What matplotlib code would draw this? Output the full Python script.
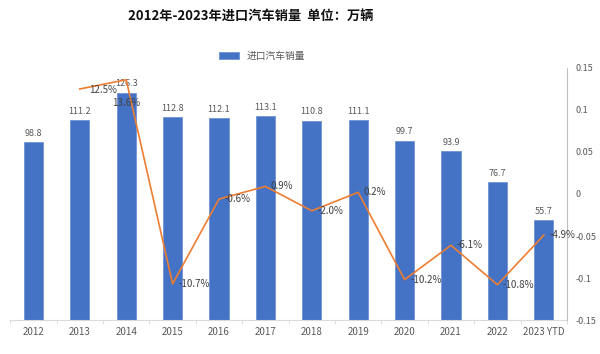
import matplotlib.pyplot as plt
from matplotlib.ticker import FixedLocator

plt.rcParams["font.family"] = ["Noto Sans CJK SC", "DejaVu Sans"]

years = ["2012", "2013", "2014", "2015", "2016", "2017", "2018", "2019",
         "2020", "2021", "2022", "2023 YTD"]
sales = [98.8, 111.2, 126.3, 112.8, 112.1, 113.1, 110.8, 111.1, 99.7, 93.9, 76.7, 55.7]
growth = [None, 0.125, 0.136, -0.107, -0.006, 0.009, -0.020, 0.002,
          -0.102, -0.061, -0.108, -0.049]
growth_labels = ["", "12.5%", "13.6%", "-10.7%", "-0.6%", "0.9%", "-2.0%", "0.2%",
                 "-10.2%", "-6.1%", "-10.8%", "-4.9%"]
right_ticks = [0.15, 0.1, 0.05, 0, -0.05, -0.1, -0.15]
right_tick_labels = ["0.15", "0.1", "0.05", "0", "-0.05", "-0.1", "-0.15"]

bar_color = "#4472C4"
line_color = "#ED7D31"
grey = "#595959"

fig = plt.figure(figsize=(6, 3.54), dpi=100)
ax = fig.add_axes([0.017, 0.096, 0.928, 0.712])

x = list(range(len(years)))
bars = ax.bar(x, sales, width=0.41, color=bar_color, edgecolor="#6f93d6",
              linewidth=0.6, label="进口汽车销量", zorder=2)
for xi, v in zip(x, sales):
    ax.annotate(f"{v}", (xi, v), xytext=(0, 3), textcoords="offset points",
                ha="center", va="bottom", fontsize=6.5, color=grey)

ax.set_xlim(-0.5, len(years) - 0.5)
ax.set_ylim(0, 140)
ax.set_yticks([])
ax.set_xticks(x)
ax.set_xticklabels(years, fontsize=7, color=grey)
ax.tick_params(axis="x", length=0, pad=5)
ax.xaxis.set_minor_locator(FixedLocator([i - 0.5 for i in range(len(years) + 1)]))
ax.tick_params(axis="x", which="minor", length=3, color="#d9d9d9")
for s in ["top", "left", "right"]:
    ax.spines[s].set_visible(False)
ax.spines["bottom"].set_color("#d9d9d9")

ax2 = ax.twinx()
gx = [xi for xi, g in zip(x, growth) if g is not None]
gy = [g for g in growth if g is not None]
ax2.plot(gx, gy, color=line_color, linewidth=1.2, zorder=3)
ax2.set_ylim(-0.15, 0.15)
ax2.set_yticks(right_ticks)
ax2.set_yticklabels(right_tick_labels, fontsize=6.5, color=grey)
ax2.tick_params(axis="y", length=0, pad=6)
for s in ["top", "left", "bottom"]:
    ax2.spines[s].set_visible(False)
ax2.spines["right"].set_color("#bfbfbf")

offsets = {1: (7, -1, "left", "center"), 2: (0, -17, "center", "center")}
for xi, g, lab in zip(x, growth, growth_labels):
    if g is None:
        continue
    dx, dy, ha, va = offsets.get(xi, (4, 0, "left", "center"))
    ax2.annotate(lab, (xi, g), xytext=(dx, dy), textcoords="offset points",
                 ha=ha, va=va, fontsize=7, color="#404040")

fig.text(0.418, 0.952, "2012年-2023年进口汽车销量  单位：万辆", ha="center", va="center",
         fontsize=9.5, fontweight="bold", color="#111111")
fig.legend(handles=[bars], labels=["进口汽车销量"], loc="center",
           bbox_to_anchor=(0.437, 0.842), frameon=False, fontsize=7,
           handlelength=2.0, handleheight=0.6, labelcolor=grey)

fig.savefig("out.png", dpi=100)
